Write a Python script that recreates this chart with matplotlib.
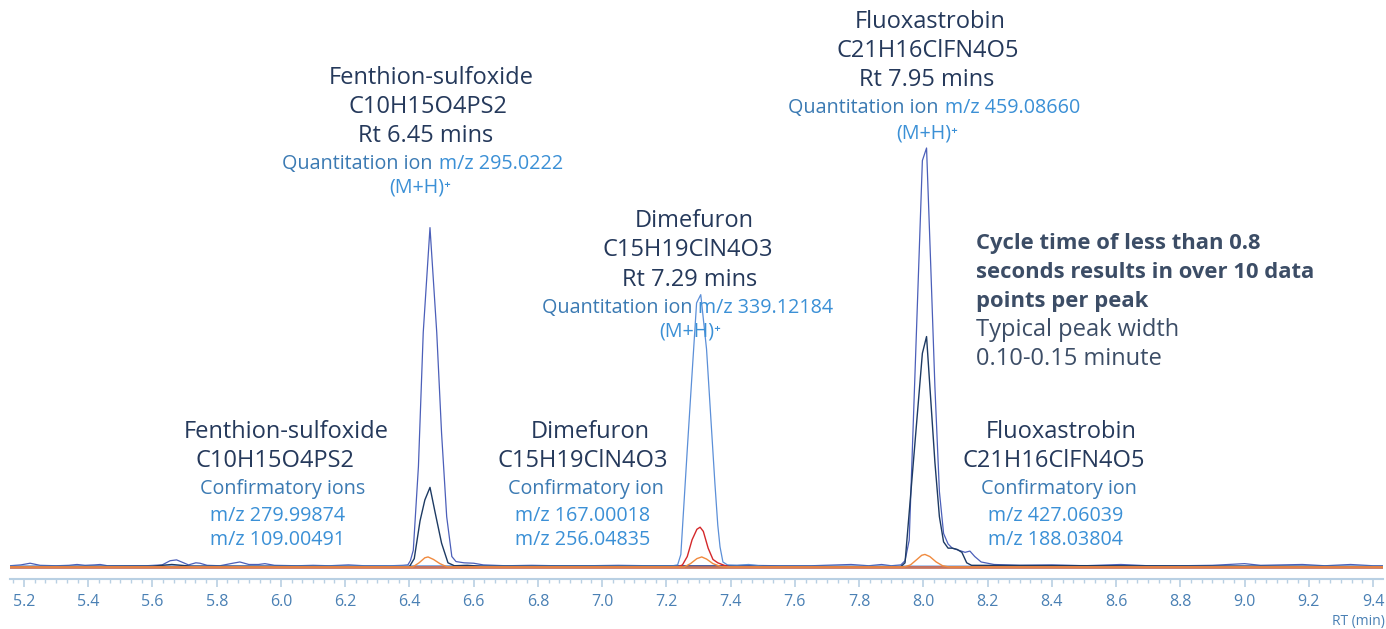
import matplotlib
matplotlib.use("Agg")
import matplotlib.pyplot as plt
from matplotlib.ticker import MultipleLocator, FixedLocator

# ---------------- data ----------------
# Quantitation ion trace for Fenthion-sulfoxide and Fluoxastrobin (blue)
quant_rt = [5.156, 5.19, 5.219, 5.25, 5.30, 5.34, 5.365, 5.39, 5.42, 5.437, 5.46, 5.52,
            5.58, 5.63, 5.655, 5.675, 5.70, 5.712, 5.735, 5.748, 5.77, 5.81, 5.85, 5.872,
            5.90, 5.93, 5.95, 5.98, 6.05, 6.10, 6.15, 6.21, 6.26, 6.34, 6.38, 6.395,
            6.403, 6.412, 6.428, 6.443, 6.464, 6.485, 6.500, 6.516, 6.532, 6.545, 6.57,
            6.60, 6.63, 6.70, 6.78, 6.86, 6.95, 7.05, 7.15, 7.25, 7.35, 7.45, 7.55, 7.65,
            7.775, 7.83, 7.87, 7.90, 7.93, 7.943, 7.956, 7.997, 8.010, 8.023, 8.036,
            8.050, 8.063, 8.077, 8.09, 8.11, 8.13, 8.145, 8.16, 8.18, 8.22, 8.30, 8.40,
            8.50, 8.615, 8.70, 8.80, 8.90, 9.00, 9.05, 9.18, 9.25, 9.33, 9.40, 9.431]
quant_int = [0.3, 0.5, 0.9, 0.4, 0.3, 0.4, 0.6, 0.4, 0.5, 0.6, 0.3, 0.3,
             0.3, 0.5, 1.5, 1.7, 0.9, 0.5, 1.0, 0.9, 0.4, 0.3, 0.9, 1.2,
             0.6, 0.6, 0.8, 0.4, 0.3, 0.4, 0.3, 0.5, 0.3, 0.3, 0.4, 0.5,
             1.5, 4.0, 24, 56, 81, 56, 32, 12, 2.5, 1.3, 1.0,
             0.9, 0.5, 0.3, 0.4, 0.3, 0.3, 0.4, 0.3, 0.3, 0.3, 0.4, 0.3, 0.3,
             0.6, 0.3, 0.6, 0.3, 0.5, 1.5, 6.4, 97, 100, 72, 43,
             18, 8, 5.5, 4.5, 4.0, 3.5, 3.8, 2.5, 1.2, 0.6, 0.4, 0.5,
             0.3, 0.6, 0.3, 0.3, 0.4, 0.8, 0.4, 0.6, 0.3, 0.6, 0.3, 0.3]

# Quantitation ion trace for Dimefuron (light blue)
dime_rt = [5.156, 7.22, 7.235, 7.245, 7.253, 7.265, 7.279, 7.294, 7.307, 7.325, 7.338,
           7.351, 7.36, 7.367, 7.376, 7.39, 7.42, 7.456, 7.50, 9.431]
dime_int = [0.2, 0.3, 0.5, 3, 13, 28, 45, 63, 65, 52, 36,
            20, 10, 4.8, 1.2, 0.5, 0.4, 0.6, 0.2, 0.2]

# First confirmatory ion trace (navy)
conf1_rt = [5.156, 5.60, 5.66, 5.72, 6.40, 6.415, 6.433, 6.448, 6.464, 6.48, 6.50, 6.52,
            6.54, 6.58, 6.62, 7.93, 7.943, 7.997, 8.010, 8.023, 8.036, 8.050, 8.063,
            8.077, 8.09, 8.105, 8.12, 8.135, 8.15, 9.431]
conf1_int = [0.1, 0.2, 0.6, 0.2, 0.1, 2, 11, 16, 19, 13, 5.7, 1.0,
             0.3, 0.4, 0.2, 0.1, 1.0, 51, 55, 40, 25, 12, 6,
             4.5, 4.5, 4.2, 3.5, 1.0, 0.4, 0.1]

# Dimefuron confirmatory ion trace (red)
red_rt = [5.156, 7.235, 7.25, 7.265, 7.28, 7.295, 7.305, 7.315, 7.33, 7.345, 7.36, 7.38,
          7.40, 9.431]
red_int = [0.0, 0.0, 0.5, 2.5, 6.5, 9.0, 9.5, 8.5, 4.5, 1.8, 1.0, 0.4, 0.0, 0.0]

# Second confirmatory ion trace (orange)
conf2_rt = [5.156, 6.41, 6.43, 6.448, 6.458, 6.475, 6.495, 6.515, 6.53, 7.255, 7.275,
            7.295, 7.31, 7.325, 7.345, 7.37, 7.39, 7.94, 7.96, 7.98, 7.995, 8.005, 8.02,
            8.04, 8.06, 8.08, 9.431]
conf2_int = [0.0, 0.0, 1.0, 2.2, 2.4, 1.8, 0.8, 0.1, 0.0, 0.0, 0.8,
             2.0, 2.4, 1.9, 0.8, 0.1, 0.0, 0.0, 0.5, 1.8, 2.8, 3.0, 2.5,
             1.2, 0.3, 0.0, 0.0]

tick_values = [5.2, 5.4, 5.6, 5.8, 6.0, 6.2, 6.4, 6.6, 6.8, 7.0, 7.2, 7.4, 7.6, 7.8,
               8.0, 8.2, 8.4, 8.6, 8.8, 9.0, 9.2, 9.4]
tick_labels = ["5.2", "5.4", "5.6", "5.8", "6.0", "6.2", "6.4", "6.6", "6.8", "7.0",
               "7.2", "7.4", "7.6", "7.8", "8.0", "8.2", "8.4", "8.6", "8.8", "9.0",
               "9.2", "9.4"]

# ---------------- styling ----------------
FONT = ["Open Sans", "DejaVu Sans"]
plt.rcParams["font.family"] = FONT
W, H = 1386, 629
DARK = "#25395b"
STEEL = "#3b7ab3"
BRIGHT = "#3b90d6"
SLATE = "#3c4d66"
AXC = "#b9d0e3"
TICKC = "#4a80b4"
BIG = 17
SMALL = 14.2

fig = plt.figure(figsize=(W / 100, H / 100), dpi=100)
ax = fig.add_axes([10 / W, (H - 579) / H, (1383 - 10) / W, 579 / H])
ax.set_xlim(5.1564, 9.4311)
ax.set_ylim(-12 / 4.19, 567 / 4.19)

ax.plot(quant_rt, quant_int, color="#4b5fb9", lw=0.9, zorder=3)
ax.plot(dime_rt, dime_int, color="#5b8fd8", lw=0.9, zorder=3)
ax.plot(conf1_rt, conf1_int, color="#1d3a63", lw=1.0, zorder=4)
ax.plot(red_rt, red_int, color="#d4282a", lw=1.0, zorder=5)
ax.plot(conf2_rt, conf2_int, color="#f08a3e", lw=1.0, zorder=6)
ax.axhline(0, color="#c6755f", lw=2.0, zorder=5.5)

for s in ["top", "left", "right"]:
    ax.spines[s].set_visible(False)
ax.spines["bottom"].set_color(AXC)
ax.spines["bottom"].set_linewidth(1.5)
ax.set_yticks([])
ax.xaxis.set_major_locator(FixedLocator(tick_values))
ax.set_xticklabels(tick_labels)
ax.xaxis.set_minor_locator(MultipleLocator(0.2 / 6))
ax.tick_params(axis="x", which="major", length=6, width=1.2, color=AXC,
               labelcolor=TICKC, labelsize=11.5, pad=5)
ax.tick_params(axis="x", which="minor", length=3, width=1.0, color=AXC)
ax.set_facecolor("none")


def T(x, y, s, color=DARK, size=BIG, ha="center", weight="normal"):
    fig.text(x / W, 1 - y / H, s, color=color, fontsize=size, ha=ha, va="center",
             fontweight=weight, family=FONT)


def quant_line(split, y, mz):
    T(split - 3, y, "Quantitation ion", STEEL, SMALL, ha="right")
    T(split + 3, y, mz, BRIGHT, SMALL, ha="left")


# Fenthion-sulfoxide (top)
T(431, 78, "Fenthion-sulfoxide")
T(428, 107, "C10H15O4PS2")
T(426, 136, "Rt 6.45 mins")
quant_line(436, 164, "m/z 295.0222")
T(420, 188, "(M+H)\u207a", BRIGHT, SMALL)

# Dimefuron (top)
T(694, 221, "Dimefuron")
T(688, 250, "C15H19ClN4O3")
T(690, 280, "Rt 7.29 mins")
quant_line(695, 308, "m/z 339.12184")
T(690, 332, "(M+H)\u207a", BRIGHT, SMALL)

# Fluoxastrobin (top)
T(930, 22, "Fluoxastrobin")
T(928, 51, "C21H16ClFN4O5")
T(927, 80, "Rt 7.95 mins")
quant_line(942, 108, "m/z 459.08660")
T(927, 133, "(M+H)\u207a", BRIGHT, SMALL)

# Bottom groups
T(286, 432, "Fenthion-sulfoxide")
T(275, 461, "C10H15O4PS2")
T(283, 489, "Confirmatory ions", STEEL, SMALL)
T(278, 516, "m/z 279.99874", BRIGHT, SMALL)
T(278, 540, "m/z 109.00491", BRIGHT, SMALL)

T(590, 432, "Dimefuron")
T(583, 461, "C15H19ClN4O3")
T(586, 489, "Confirmatory ion", STEEL, SMALL)
T(583, 516, "m/z 167.00018", BRIGHT, SMALL)
T(583, 540, "m/z 256.04835", BRIGHT, SMALL)

T(1061, 432, "Fluoxastrobin")
T(1054, 461, "C21H16ClFN4O5")
T(1059, 489, "Confirmatory ion", STEEL, SMALL)
T(1056, 516, "m/z 427.06039", BRIGHT, SMALL)
T(1056, 540, "m/z 188.03804", BRIGHT, SMALL)

# Cycle-time note
T(976, 243, "Cycle time of less than 0.8", SLATE, 15.8, ha="left", weight="bold")
T(976, 272, "seconds results in over 10 data", SLATE, 15.8, ha="left", weight="bold")
T(976, 301, "points per peak", SLATE, 15.8, ha="left", weight="bold")
T(976, 330, "Typical peak width", SLATE, BIG, ha="left")
T(976, 359, "0.10-0.15 minute", SLATE, BIG, ha="left")

fig.text(1385 / W, 1 - 621 / H, "RT (min)", color=TICKC, fontsize=10, ha="right",
         va="center", family=FONT)

fig.savefig("out.png", dpi=100)
